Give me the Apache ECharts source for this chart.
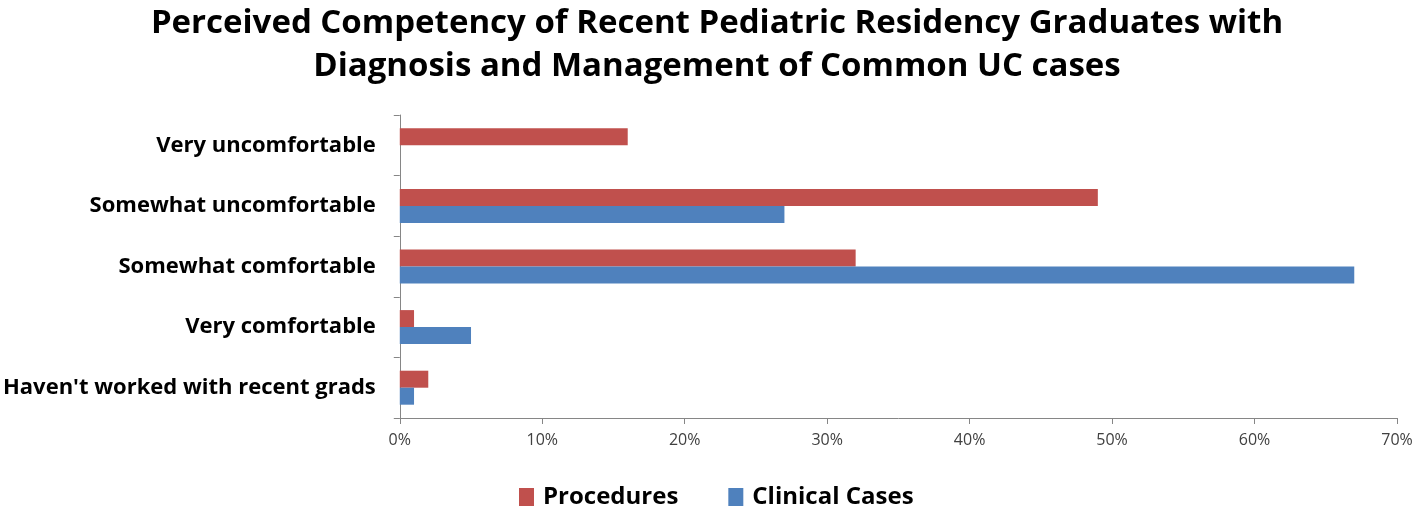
<!DOCTYPE html>
<html>
<head>
<meta charset="utf-8">
<script src="https://cdn.jsdelivr.net/npm/echarts@6/dist/echarts.min.js"></script>
<style>
html,body{margin:0;padding:0;background:#fff;}
#chart{width:1418px;height:507px;}
</style>
</head>
<body>
<div id="chart"></div>
<script>
const categories = ["Very uncomfortable", "Somewhat uncomfortable", "Somewhat comfortable", "Very comfortable", "Haven't worked with recent grads"];
const procedures = [16, 49, 32, 1, 2];
const clinicalCases = [0, 27, 67, 5, 1];
const xTicks = [0, 10, 20, 30, 40, 50, 60, 70];

const FONT = "'Open Sans', sans-serif";
const chart = echarts.init(document.getElementById('chart'), null, {renderer: 'canvas'});
chart.setOption({
  animation: false,
  backgroundColor: '#ffffff',
  title: {
    text: 'Perceived Competency of Recent Pediatric Residency Graduates with\nDiagnosis and Management of Common UC cases',
    left: 712, top: -3, textAlign: 'center',
    textStyle: {fontFamily: FONT, fontWeight: 'bold', fontSize: 33, color: '#000', lineHeight: 43}
  },
  legend: {
    data: ['Procedures', 'Clinical Cases'],
    left: 514, top: 480,
    itemWidth: 15, itemHeight: 18, itemGap: 50,
    icon: 'rect',
    textStyle: {fontFamily: FONT, fontWeight: 'bold', fontSize: 24, color: '#000', padding: [0, 0, 0, 4]}
  },
  grid: {left: 397, right: 21, top: 115, bottom: 89, containLabel: false},
  xAxis: {
    type: 'value', min: xTicks[0], max: xTicks[xTicks.length - 1], interval: 10,
    axisLine: {show: true, lineStyle: {color: '#868686', width: 1}},
    axisTick: {show: true, length: 6, lineStyle: {color: '#868686'}},
    splitLine: {show: false},
    axisLabel: {formatter: v => v + '%', fontFamily: FONT, fontSize: 16, color: '#404040', margin: 14}
  },
  yAxis: {
    type: 'category', data: categories, inverse: true,
    axisLine: {show: true, lineStyle: {color: '#868686', width: 1}},
    axisTick: {show: true, length: 6, lineStyle: {color: '#868686'}},
    axisLabel: {fontFamily: FONT, fontWeight: 'bold', fontSize: 22, color: '#000', margin: 24}
  },
  series: [
    {name: 'Procedures', type: 'bar', data: procedures, barWidth: 17, barGap: '0%',
     itemStyle: {color: '#C0504D'}},
    {name: 'Clinical Cases', type: 'bar', data: clinicalCases, barWidth: 17, barGap: '0%',
     itemStyle: {color: '#4F81BD'}}
  ]
});
</script>
</body>
</html>
